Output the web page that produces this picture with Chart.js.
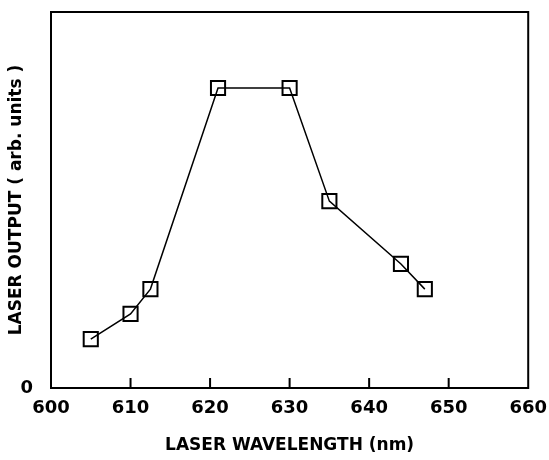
<!DOCTYPE html>
<html>
<head>
<meta charset="utf-8">
<script src="https://cdn.jsdelivr.net/npm/chart.js@4/dist/chart.umd.min.js"></script>
<style>
  html, body { margin: 0; padding: 0; background: #fff; }
  #wrap { width: 549px; height: 460px; }
</style>
</head>
<body>
<div id="wrap"><canvas id="grafico"></canvas></div>
<script>
const comprimentos = [605, 610, 612.5, 621, 630, 635, 644, 647];
const saida = [13, 19.7, 26.3, 79.8, 79.8, 49.7, 33, 26.3];
const xTicks = [600, 610, 620, 630, 640, 650, 660];

const fonte = { family: "'DejaVu Sans', sans-serif", weight: "bold", size: 17 };

// moldura e marcas internas
const moldura = {
  id: "moldura",
  afterDraw(chart) {
    const ctx = chart.ctx;
    const a = chart.chartArea;
    const sx = chart.scales.x;
    ctx.save();
    ctx.strokeStyle = "#000";
    ctx.lineWidth = 2;
    ctx.beginPath();
    ctx.rect(a.left, a.top, a.right - a.left, a.bottom - a.top);
    for (const v of xTicks) {
      const x = sx.getPixelForValue(v);
      ctx.moveTo(x, a.bottom);
      ctx.lineTo(x, a.bottom - 10);
    }
    ctx.stroke();
    ctx.restore();
  }
};

new Chart(document.getElementById("grafico"), {
  type: "line",
  data: {
    datasets: [{
      data: comprimentos.map((x, i) => ({ x, y: saida[i] })),
      borderColor: "#000",
      borderWidth: 1.5,
      pointStyle: "rect",
      pointRadius: 10,
      pointBorderWidth: 2,
      pointBackgroundColor: "rgba(255,255,255,0)",
      pointBorderColor: "#000",
      tension: 0
    }]
  },
  options: {
    responsive: true,
    maintainAspectRatio: false,
    animation: false,
    layout: { autoPadding: false, padding: { top: 12, right: 15, left: 6, bottom: 0 } },
    plugins: { legend: { display: false }, tooltip: { enabled: false } },
    scales: {
      x: {
        type: "linear",
        min: 600, max: 660,
        afterBuildTicks: s => { s.ticks = xTicks.map(v => ({ value: v })); },
        grid: { display: false },
        border: { display: false },
        ticks: { color: "#000", font: { ...fonte, size: 18 }, padding: 2, maxRotation: 0 },
        title: { display: true, text: "LASER WAVELENGTH (nm)", color: "#000", font: fonte, padding: { top: 22 } },
        afterFit: s => { s.height = 72; }
      },
      y: {
        min: 0, max: 100,
        afterBuildTicks: s => { s.ticks = [{ value: 0 }]; },
        grid: { display: false },
        border: { display: false },
        ticks: { color: "#000", font: { ...fonte, size: 18 }, padding: 10 },
        title: { display: true, text: "LASER OUTPUT ( arb. units )", color: "#000", font: fonte, padding: 0 },
        afterFit: s => { s.width = 45; s.paddingTop = 0; }
      }
    }
  },
  plugins: [moldura]
});
</script>
</body>
</html>
